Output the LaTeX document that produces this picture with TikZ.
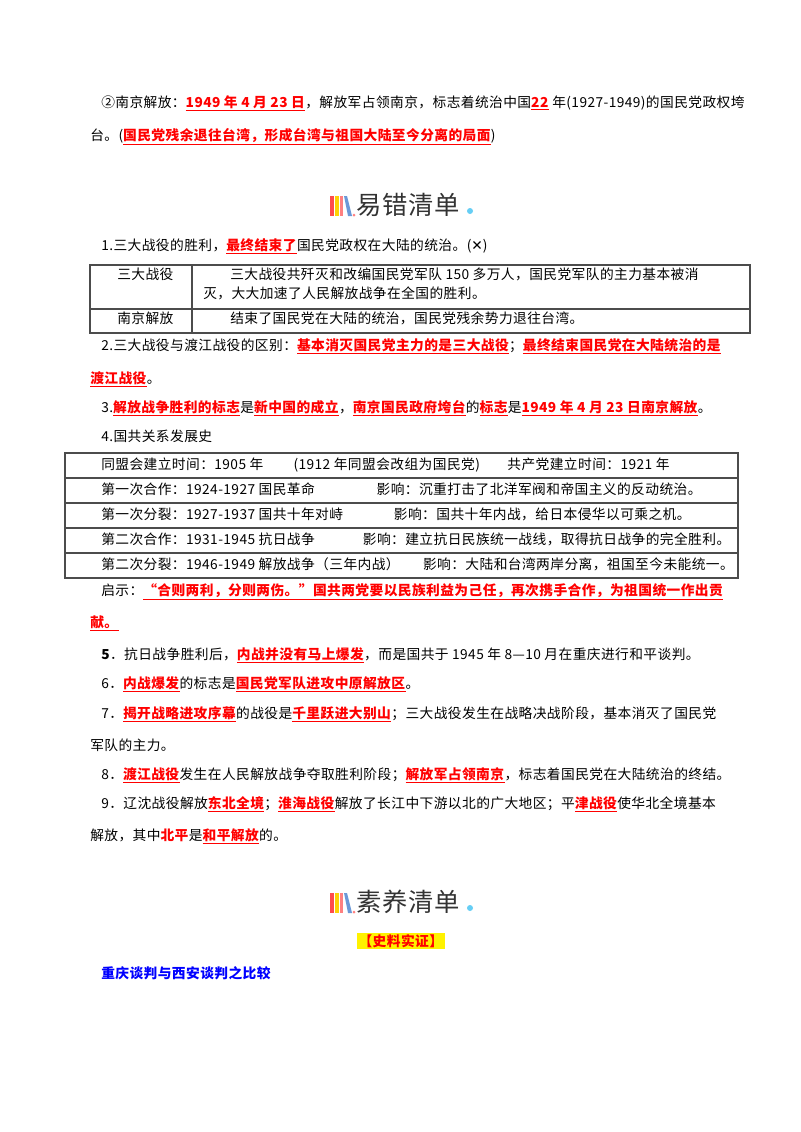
\documentclass[tikz,border=0pt]{standalone}
\usepackage{fontspec}
\setmainfont{Noto Sans CJK SC}[LetterSpace=3]
\newfontfamily\symf{DejaVu Sans}
\newcommand\rr[1]{\textcolor{red}{\underline{\textbf{#1}}}}
\newcommand\rb[1]{\textcolor{red}{\textbf{#1}}}
\begin{document}
\begin{tikzpicture}[x=0.75pt,y=-0.75pt,
  tx/.style={anchor=base west,inner sep=0pt,font=\fontsize{10.3pt}{12pt}\selectfont},
  hd/.style={anchor=base west,inner sep=0pt,font=\fontsize{19pt}{22pt}\selectfont,text=black!80},
  tb/.style={draw=black!70,line width=0.8pt}]
\useasboundingbox (0,0) rectangle (800,1132);
\fill[white] (0,0) rectangle (800,1132);
\node[tx] (l1) at (101,107) {②南京解放：\rr{1949 年 4 月 23 日}，解放军占领南京，标志着统治中国\rr{22} 年(1927-1949)的国民党政权垮};
\node[tx] (l2) at (90,140) {台。(\rr{国民党残余退往台湾，形成台湾与祖国大陆至今分离的局面})};
% header 1
\begin{scope}[shift={(330,196)}]
\fill[red!60!pink] (0,0) rectangle (4,20);
\fill[yellow!70!orange] (5,0) rectangle (9,20);
\fill[red!50] (10,0) rectangle (13,20);
\fill[cyan!50!blue!60] (14,0) -- (17,0) -- (22,20) -- (18,20) -- cycle;
\fill[red!50] (24,19) circle (1.5);
\end{scope}
\node[hd] (h1) at (356,214) {易错清单};
\fill[cyan!60] (470,211) circle (3);
\node[tx] (a1) at (101,250) {1.三大战役的胜利，\rr{最终结束了}国民党政权在大陆的统治。({\symf ✕})};
\draw[tb] (90,265) rectangle (750,333);
\draw[tb] (90,309) -- (750,309) (192,265) -- (192,333);
\node[tx] (t11) at (117,279) {三大战役};
\node[tx] (t12) at (230,279) {三大战役共歼灭和改编国民党军队 150 多万人，国民党军队的主力基本被消};
\node[tx] (t13) at (203,298) {灭，大大加速了人民解放战争在全国的胜利。};
\node[tx] (t21) at (117,323) {南京解放};
\node[tx] (t22) at (230,323) {结束了国民党在大陆的统治，国民党残余势力退往台湾。};
\node[tx] (a2) at (101,350) {2.三大战役与渡江战役的区别：\rr{基本消灭国民党主力的是三大战役}；\rr{最终结束国民党在大陆统治的是}};
\node[tx] (a2b) at (90,383) {\rr{渡江战役}。};
\node[tx] (a3) at (101,412) {3.\rr{解放战争胜利的标志}是\rr{新中国的成立}，\rr{南京国民政府垮台}的\rr{标志}是\rr{1949 年 4 月 23 日南京解放}。};
\node[tx] (a4) at (101,441) {4.国共关系发展史};
\draw[tb] (65,453) rectangle (738,578);
\foreach \yy in {478,503,528,553} \draw[tb] (65,\yy) -- (738,\yy);
\node[tx] (r1) at (101,469) {同盟会建立时间：1905 年\hspace{2.2em}(1912 年同盟会改组为国民党)\hspace{2em}共产党建立时间：1921 年};
\node[tx] (r2) at (101,494) {第一次合作：1924-1927 国民革命\hspace{4.5em}影响：沉重打击了北洋军阀和帝国主义的反动统治。};
\node[tx] (r3) at (101,519) {第一次分裂：1927-1937 国共十年对峙\hspace{3.7em}影响：国共十年内战，给日本侵华以可乘之机。};
\node[tx] (r4) at (101,544) {第二次合作：1931-1945 抗日战争\hspace{3.5em}影响：建立抗日民族统一战线，取得抗日战争的完全胜利。};
\node[tx] (r5) at (101,569) {第二次分裂：1946-1949 解放战争（三年内战）\hspace{1.7em}影响：大陆和台湾两岸分离，祖国至今未能统一。};
\node[tx] (q1) at (101,595) {启示：\rr{“合则两利，分则两伤。”国共两党要以民族利益为己任，再次携手合作，为祖国统一作出贡}};
\node[tx] (q2) at (90,627) {\rr{献。}};
\node[tx] (b5) at (101,659) {\textbf{5}．抗日战争胜利后，\rr{内战并没有马上爆发}，而是国共于 1945 年 8—10 月在重庆进行和平谈判。};
\node[tx] (b6) at (101,688) {6．\rr{内战爆发}的标志是\rr{国民党军队进攻中原解放区}。};
\node[tx] (b7) at (101,718) {7．\rr{揭开战略进攻序幕}的战役是\rr{千里跃进大别山}；三大战役发生在战略决战阶段，基本消灭了国民党};
\node[tx] (b7b) at (90,750) {军队的主力。};
\node[tx] (b8) at (101,779) {8．\rr{渡江战役}发生在人民解放战争夺取胜利阶段；\rr{解放军占领南京}，标志着国民党在大陆统治的终结。};
\node[tx] (b9) at (101,808) {9．辽沈战役解放\rr{东北全境}；\rr{淮海战役}解放了长江中下游以北的广大地区；平\rr{津战役}使华北全境基本};
\node[tx] (b9b) at (90,840) {解放，其中\rb{北平}是\rr{和平解放}的。};
% header 2
\begin{scope}[shift={(330,893)}]
\fill[red!60!pink] (0,0) rectangle (4,20);
\fill[yellow!70!orange] (5,0) rectangle (9,20);
\fill[red!50] (10,0) rectangle (13,20);
\fill[cyan!50!blue!60] (14,0) -- (17,0) -- (22,20) -- (18,20) -- cycle;
\fill[red!50] (24,19) circle (1.5);
\end{scope}
\node[hd] (h2) at (356,911) {素养清单};
\fill[cyan!60] (470,908) circle (3);
\node[tx,fill=yellow,inner sep=1pt,text=red] (s1) at (357,946) {\textbf{【史料实证】}};
\node[tx,text=blue] (s2) at (101,978) {\textbf{重庆谈判与西安谈判之比较}};
\end{tikzpicture}
\end{document}
